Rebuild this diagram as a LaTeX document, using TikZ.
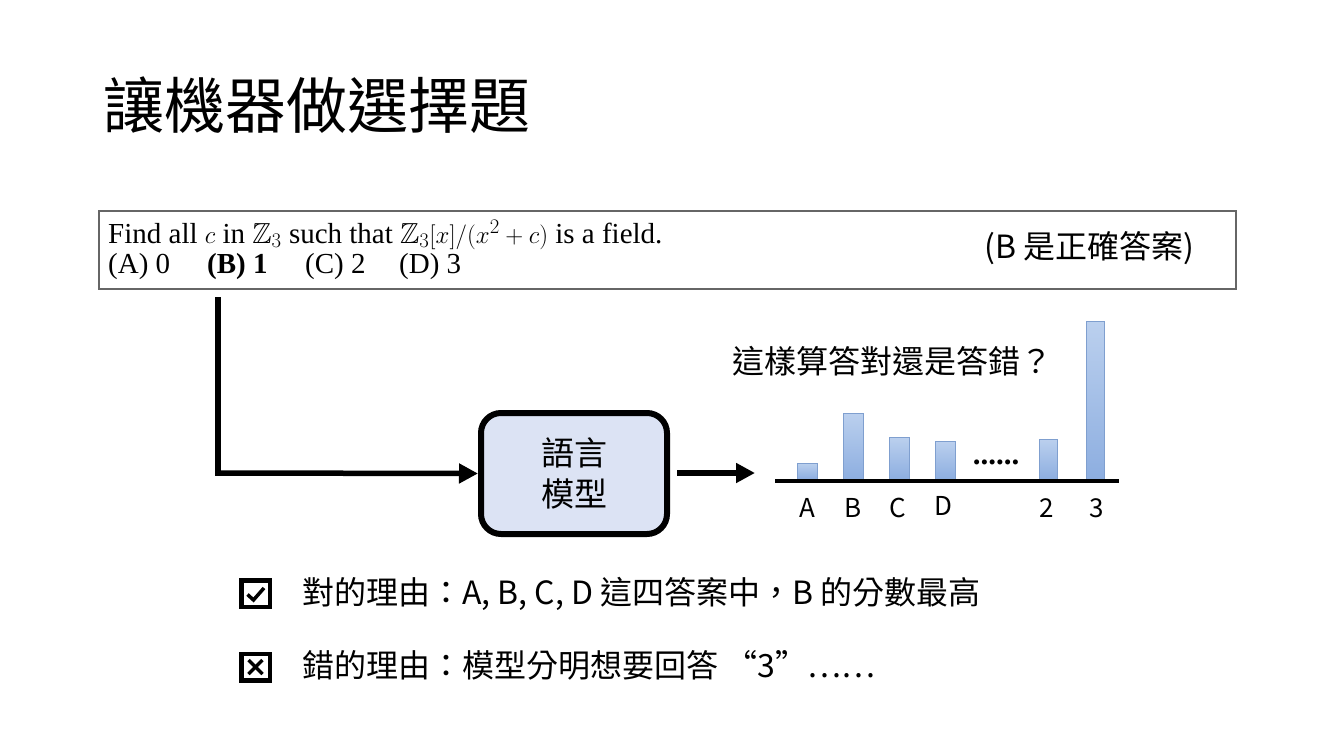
\documentclass[tikz,border=0pt]{standalone}
\usepackage{amssymb}
\usepackage{fontspec}
\setmainfont{Liberation Serif}
\newfontfamily\cjk{Noto Sans CJK TC}
\usetikzlibrary{arrows.meta}
\definecolor{boxfill}{HTML}{DCE3F4}
\definecolor{bartop}{HTML}{BBD0EE}
\definecolor{barbot}{HTML}{8DAEE0}
\definecolor{baredge}{HTML}{7F9FCF}
\tikzset{
  cjktext/.style={font=\cjk\fontsize{#1}{#1}\selectfont, inner sep=0pt, anchor=base west},
  qtext/.style={font=\fontsize{29}{29}\selectfont, inner sep=0pt, anchor=base west},
  thickline/.style={line width=5.5pt},
  arr/.style={thickline, -{Triangle[length=19pt,width=19pt]}},
  barbox/.style={top color=bartop, bottom color=barbot, draw=baredge, line width=0.8pt},
  lbl/.style={font=\cjk\fontsize{26}{26}\selectfont, inner sep=0pt, anchor=base},
  chkbox/.style={draw, line width=4.5pt, minimum width=28.5pt, minimum height=26.5pt, inner sep=0pt},
}
\begin{document}
\begin{tikzpicture}[x=1pt,y=-1pt]
\useasboundingbox (0,0) rectangle (1334,750);
% title
\node[cjktext=61] (title) at (103,128) {讓機器做選擇題};
% question box
\draw[draw=black!60, line width=1.2pt] (99,211) rectangle (1236,289);
\node[qtext] (q1) at (108,243) {Find all $c$ in $\mathbb{Z}_3$ such that $\mathbb{Z}_3[x]/(x^2+c)$ is a field.};
\node[qtext] (qa) at (108,273) {(A) 0};
\node[qtext] (qb) at (207,273) {\textbf{(B) 1}};
\node[qtext] (qc) at (305,273) {(C) 2};
\node[qtext] (qd) at (399,273) {(D) 3};
\node[cjktext=32] (ans) at (984,258) {(B 是正確答案)};
% flow
\coordinate (top) at (218,297);
\coordinate (corner) at (218,473);
\node[draw, line width=6pt, rounded corners=20pt, fill=boxfill, minimum width=186pt, minimum height=121pt,
      align=center, font=\cjk\fontsize{33}{41}\selectfont] (lm) at (574,473.5) {語言\\模型};
\draw[thickline] (top) -- ([yshift=-2.75pt]corner);
\draw[arr] ([xshift=-2.75pt]corner) -- (lm.west);
\coordinate (out0) at (677,473);
\coordinate (out1) at (755,473);
\draw[arr] (out0) -- (out1);
% chart
\node[cjktext=32] (q2) at (732,373) {這樣算答對還是答錯？};
\coordinate (ax0) at (775,480.5);
\coordinate (ax1) at (1119,480.5);
\draw[barbox] (797,463) rectangle (817,479);
\draw[barbox] (843,413) rectangle (863,479);
\draw[barbox] (889,437) rectangle (909,479);
\draw[barbox] (935,441) rectangle (955,479);
\draw[barbox] (1039,439) rectangle (1057,479);
\draw[barbox] (1086,321) rectangle (1104,479);
\draw[line width=4pt] (ax0) -- (ax1);
\node[font=\bfseries\fontsize{31}{31}\selectfont, inner sep=0pt, anchor=base] (dots) at (996,464) {......};
\node[lbl] (la) at (807,517) {A};
\node[lbl] (lb) at (853,517) {B};
\node[lbl] (lc) at (898,517) {C};
\node[lbl] (ld) at (943,515) {D};
\node[lbl] (l2) at (1047,517) {2};
\node[lbl] (l3) at (1097,517) {3};
% reasons
\node[chkbox] (cb1) at (255.5,593.5) {};
\draw[line width=3.5pt] ([shift={(-8,1)}]cb1.center) -- ([shift={(-2,6.5)}]cb1.center) -- ([shift={(8.5,-5.5)}]cb1.center);
\node[chkbox] (cb2) at (255.5,667) {};
\draw[line width=3.5pt] ([shift={(-7,-7)}]cb2.center) -- ([shift={(7,7)}]cb2.center);
\draw[line width=3.5pt] ([shift={(-7,7)}]cb2.center) -- ([shift={(7,-7)}]cb2.center);
\node[cjktext=32] (r1) at (302,604) {對的理由：A, B, C, D 這四答案中，B 的分數最高};
\node[cjktext=32] (r2) at (302,677) {錯的理由：模型分明想要回答 “3”……};
\end{tikzpicture}
\end{document}
